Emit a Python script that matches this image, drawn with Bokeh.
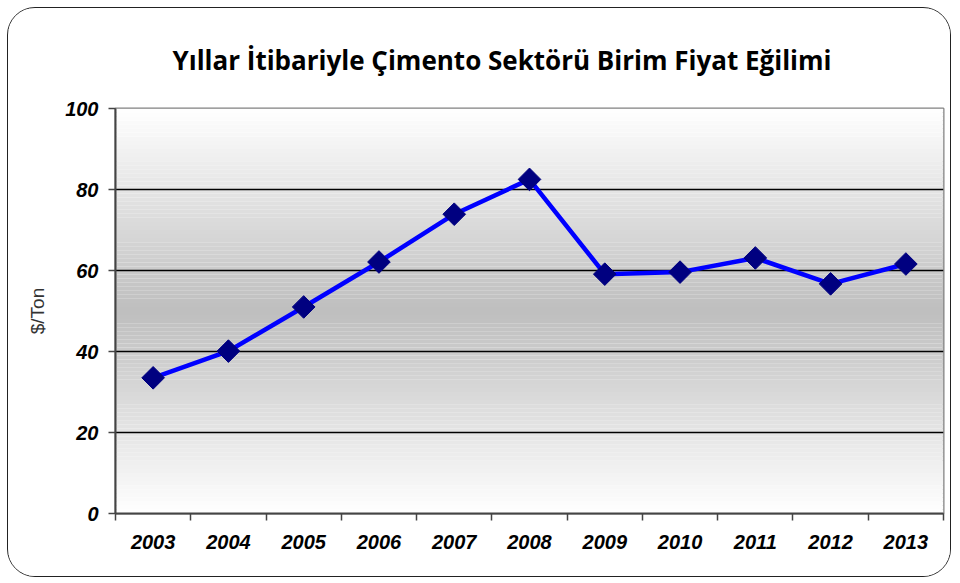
import numpy as np
from bokeh.plotting import figure
from bokeh.models import FixedTicker, ColumnDataSource
from bokeh.embed import file_html
from bokeh.resources import INLINE

years = ["2003", "2004", "2005", "2006", "2007", "2008", "2009", "2010", "2011", "2012", "2013"]
prices = [33.5, 40.1, 51.0, 62.1, 73.9, 82.5, 59.1, 59.6, 63.1, 56.7, 61.6]
y_ticks = [0, 20, 40, 60, 80, 100]

idx = list(range(len(years)))
x_lo, x_hi = -0.5, len(years) - 0.5

p = figure(width=944, height=570, output_backend="svg", toolbar_location=None,
           x_range=(x_lo, x_hi), y_range=(0, 100),
           min_border_left=107, min_border_right=9, min_border_top=99, min_border_bottom=65,
           background_fill_color="white", border_fill_color="white")
p.styles = {"border": "1.5px solid #222", "border-radius": "28px", "overflow": "hidden",
            "margin-left": "7px", "margin-top": "7px"}

# title
p.title.text = "Yıllar İtibariyle Çimento Sektörü Birim Fiyat Eğilimi"
p.title.text_font = "Open Sans"
p.title.text_font_style = "bold"
p.title.text_font_size = "26px"
p.title.text_color = "black"
p.title.align = "left"
p.title.offset = 57
p.title.standoff = 62

# gradient background bands
n = 100
edges = np.linspace(0, 100, n + 1)
mids = (edges[:-1] + edges[1:]) / 2
cols = []
for m in mids:
    g = int(round(255 - 65 * (1 - abs(m - 50) / 50)))
    cols.append("#%02x%02x%02x" % (g, g, g))
bg = p.quad(left=x_lo, right=x_hi, bottom=edges[:-1], top=edges[1:], fill_color=cols, line_color=None)
bg.level = "image"

# grid
p.xgrid.grid_line_color = None
p.ygrid.ticker = FixedTicker(ticks=y_ticks)
p.ygrid.grid_line_color = "black"
p.ygrid.grid_line_width = 1.3
p.ygrid.level = "underlay"

src = ColumnDataSource(dict(x=idx, y=prices))
p.line("x", "y", source=src, line_color="#0000ff", line_width=4.5)
p.scatter("x", "y", source=src, marker="square", angle=np.pi / 4, size=16,
          fill_color="#000080", line_color="#000080")

# axes
p.yaxis.ticker = FixedTicker(ticks=y_ticks)
p.yaxis.major_label_text_font = "Liberation Sans"
p.yaxis.major_label_text_font_style = "bold italic"
p.yaxis.major_label_text_font_size = "20px"
p.yaxis.major_label_text_color = "black"
p.yaxis.major_tick_out = 7
p.yaxis.major_tick_in = 0
p.yaxis.minor_tick_line_color = None
p.yaxis.major_label_standoff = 10
p.yaxis.axis_line_color = "#444444"
p.yaxis.axis_line_width = 2
p.yaxis.major_tick_line_color = "#444444"
p.yaxis.major_tick_line_width = 1.5
p.yaxis.axis_label = "$/Ton"
p.yaxis.axis_label_text_font = "Liberation Sans"
p.yaxis.axis_label_text_font_style = "normal"
p.yaxis.axis_label_text_font_size = "19px"
p.yaxis.axis_label_text_color = "#333333"
p.yaxis.axis_label_standoff = 14

p.xaxis.ticker = FixedTicker(ticks=idx, minor_ticks=[i - 0.5 for i in range(len(years) + 1)])
p.xaxis.major_label_overrides = {i: y for i, y in zip(idx, years)}
p.xaxis.major_tick_out = 0
p.xaxis.major_tick_in = 0
p.xaxis.minor_tick_out = 7
p.xaxis.minor_tick_in = 0
p.xaxis.minor_tick_line_color = "#444444"
p.xaxis.minor_tick_line_width = 1.5
p.xaxis.axis_line_color = "#444444"
p.xaxis.axis_line_width = 2
p.xaxis.major_label_text_font = "Liberation Sans"
p.xaxis.major_label_text_font_style = "bold italic"
p.xaxis.major_label_text_font_size = "20px"
p.xaxis.major_label_text_color = "black"
p.xaxis.major_label_standoff = 14

p.outline_line_color = "#808080"
p.outline_line_width = 2

open("out.html", "w").write(file_html(p, INLINE))
